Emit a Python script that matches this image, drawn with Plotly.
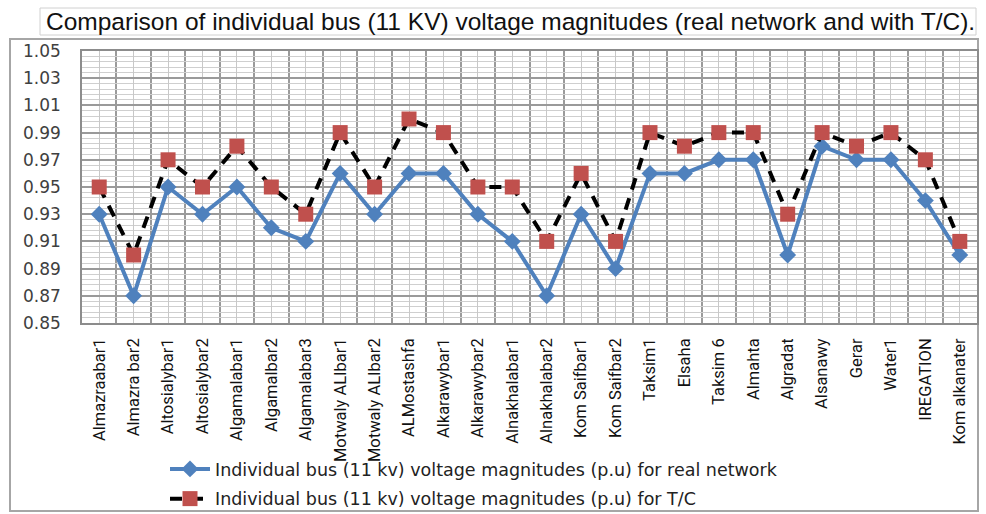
import plotly.graph_objects as go

buses = ["Almazraabar1", "Almazra bar2", "Altosialybar1", "Altosialybar2", "Algamalabar1",
         "Algamalbar2", "Algamalabar3", "Motwaly ALIbar1", "Motwaly ALIbar2", "ALMostashfa",
         "Alkarawybar1", "Alkarawybar2", "Alnakhalabar1", "Alnakhalabar2", "Kom Saifbar1",
         "Kom Saifbar2", "Taksim1", "Elsaha", "Taksim 6", "Almahta", "Algradat", "Alsanawy",
         "Gerar", "Water1", "IREGATION", "Kom alkanater"]
real_network = [0.93, 0.87, 0.95, 0.93, 0.95, 0.92, 0.91, 0.96, 0.93, 0.96, 0.96, 0.93, 0.91,
                0.87, 0.93, 0.89, 0.96, 0.96, 0.97, 0.97, 0.90, 0.98, 0.97, 0.97, 0.94, 0.90]
with_tc = [0.95, 0.90, 0.97, 0.95, 0.98, 0.95, 0.93, 0.99, 0.95, 1.00, 0.99, 0.95, 0.95,
           0.91, 0.96, 0.91, 0.99, 0.98, 0.99, 0.99, 0.93, 0.99, 0.98, 0.99, 0.97, 0.91]
y_ticks = [0.85, 0.87, 0.89, 0.91, 0.93, 0.95, 0.97, 0.99, 1.01, 1.03, 1.05]

idx = list(range(len(buses)))

W, H = 986, 514
L, R, T, B = 82, 9, 51, 191
pw, ph = W - L - R, H - T - B

def px_x(p):
    return (p - L) / pw

def px_y(p):
    return (H - B - p) / ph

fig = go.Figure()
fig.add_trace(go.Scatter(
    x=idx, y=real_network, mode="lines+markers",
    name="Individual bus (11 kv) voltage magnitudes (p.u) for real network",
    line=dict(color="#4F81BD", width=4),
    marker=dict(symbol="diamond", size=13, color="#4F81BD"),
    legendgroup="a",
))
fig.add_trace(go.Scatter(
    x=idx, y=with_tc, mode="lines+markers",
    name="Individual bus (11 kv) voltage magnitudes (p.u) for T/C",
    line=dict(color="#000000", width=4, dash="12px,9px"),
    marker=dict(symbol="square", size=15, color="#C0504D"),
    legendgroup="b",
))

fig.update_layout(
    width=W, height=H,
    margin=dict(l=L, r=R, t=T, b=B, autoexpand=False),
    paper_bgcolor="white", plot_bgcolor="white",
    showlegend=True,
    legend=dict(
        x=px_x(165), y=px_y(451), xanchor="left", yanchor="top",
        font=dict(family="DejaVu Sans, Verdana, sans-serif", size=17.5, color="#222"),
        tracegroupgap=4, traceorder="grouped", itemwidth=40,
        bgcolor="rgba(0,0,0,0)",
    ),
    xaxis=dict(
        range=[-0.5, len(buses) - 0.5], automargin=False,
        tickmode="array", tickvals=idx, ticktext=buses, tickangle=-90,
        tickfont=dict(family="Liberation Sans Narrow, Roboto, sans-serif", size=16.5, color="#111"),
        ticklabelstandoff=7,
        showgrid=True, gridcolor="#C8C8C8", gridwidth=1,
        minor=dict(tick0=-0.5, dtick=1, showgrid=True, gridcolor="#9A9A9A", gridwidth=1.5),
        showline=True, linecolor="#8C8C8C", linewidth=1.5, mirror=True,
        ticks="", ticklen=0, zeroline=False, fixedrange=True,
    ),
    yaxis=dict(
        range=[0.85, 1.05], automargin=False,
        tickmode="array", tickvals=y_ticks, ticktext=[f"{v:.2f}" for v in y_ticks],
        tickfont=dict(family="DejaVu Sans, Verdana, sans-serif", size=17, color="#404040"),
        ticklabelstandoff=16,
        showgrid=True, gridcolor="#9A9A9A", gridwidth=1.5,
        minor=dict(tick0=0.85, dtick=0.004, showgrid=True, gridcolor="#CFCFCF", gridwidth=1),
        showline=True, linecolor="#8C8C8C", linewidth=1.5, mirror=True,
        ticks="", zeroline=False, fixedrange=True,
    ),
    shapes=[
        dict(type="rect", xref="paper", yref="paper",
             x0=px_x(10), x1=px_x(978), y0=px_y(511), y1=px_y(39),
             line=dict(color="#A6A6A6", width=2), fillcolor="rgba(0,0,0,0)", layer="below"),
        dict(type="rect", xref="paper", yref="paper",
             x0=px_x(40), x1=px_x(976), y0=px_y(35), y1=px_y(8),
             line=dict(color="#D0D0D0", width=1), fillcolor="white", layer="below"),
    ],
    annotations=[
        dict(text="Comparison of individual bus (11 KV) voltage magnitudes (real network and with T/C).",
             xref="paper", yref="paper", x=px_x(44), y=px_y(21.5),
             xanchor="left", yanchor="middle", showarrow=False,
             font=dict(family="Liberation Sans, Arial, sans-serif", size=24.5, color="#111")),
    ],
)

fig.write_html("out.html", config={"displayModeBar": False},
               post_script="document.body.style.margin='0px';")
